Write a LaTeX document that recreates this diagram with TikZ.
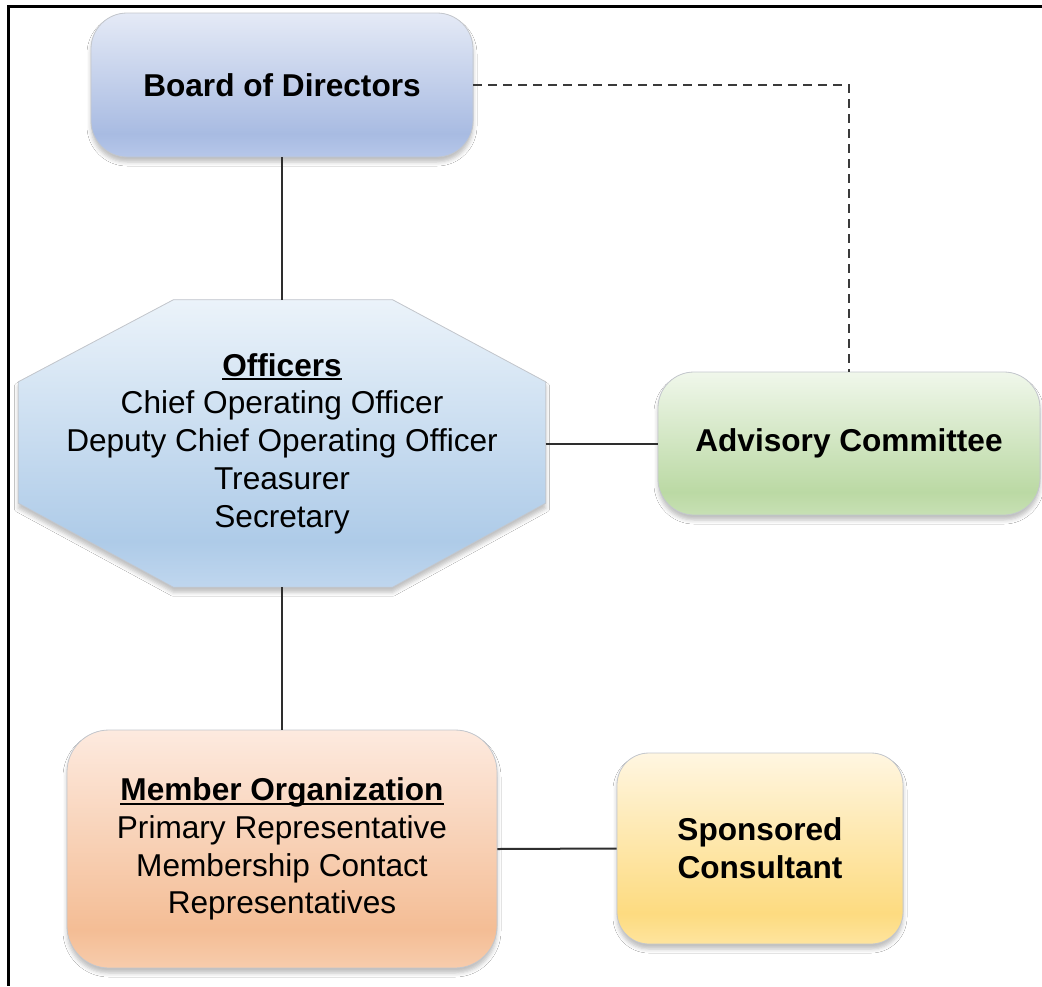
\documentclass[tikz,border=0pt]{standalone}
\usepackage{fontspec}
\setmainfont{Liberation Sans}
\usetikzlibrary{calc,shadows.blur}

% underlined heading: a rule under the measured text width
\newsavebox\headsave
\newcommand\headline[1]{\sbox\headsave{#1}\rlap{\rule[-4.2pt]{\wd\headsave}{2.2pt}}\usebox\headsave}

% palette
\definecolor{boxline}{HTML}{C4C7CC}
\definecolor{linkcol}{HTML}{2E2E2E}
\definecolor{dashcol}{HTML}{3A3A3A}
\definecolor{shadowblue}{HTML}{9FB6D9}
\definecolor{bdT}{HTML}{E5EAF6}\definecolor{bdD}{HTML}{A8BBE2}\definecolor{bdB}{HTML}{B6C7E9}
\definecolor{ofT}{HTML}{EBF3FA}\definecolor{ofD}{HTML}{AECBE8}\definecolor{ofB}{HTML}{BFD6EE}
\definecolor{adT}{HTML}{F0F7EB}\definecolor{adD}{HTML}{BBD9A4}\definecolor{adB}{HTML}{C7E0B4}
\definecolor{meT}{HTML}{FDEADF}\definecolor{meD}{HTML}{F4BD95}\definecolor{meB}{HTML}{F7CCAC}
\definecolor{spT}{HTML}{FFF6E1}\definecolor{spD}{HTML}{FDDB80}\definecolor{spB}{HTML}{FEE49E}

% three-stop vertical gradients (path maps onto 25bp..75bp)
\pgfdeclareverticalshading{boardshade}{100bp}{color(0bp)=(bdB); color(25bp)=(bdB); color(33bp)=(bdD); color(75bp)=(bdT); color(100bp)=(bdT)}
\pgfdeclareverticalshading{offshade}{100bp}{color(0bp)=(ofB); color(25bp)=(ofB); color(33bp)=(ofD); color(75bp)=(ofT); color(100bp)=(ofT)}
\pgfdeclareverticalshading{advshade}{100bp}{color(0bp)=(adB); color(25bp)=(adB); color(33bp)=(adD); color(75bp)=(adT); color(100bp)=(adT)}
\pgfdeclareverticalshading{memshade}{100bp}{color(0bp)=(meB); color(25bp)=(meB); color(33bp)=(meD); color(75bp)=(meT); color(100bp)=(meT)}
\pgfdeclareverticalshading{sposhade}{100bp}{color(0bp)=(spB); color(25bp)=(spB); color(33bp)=(spD); color(75bp)=(spT); color(100bp)=(spT)}

\newcommand\boldface{\fontsize{31.6}{37.7}\selectfont\bfseries}
\newcommand\plainface{\fontsize{31.6}{37.7}\selectfont}

\tikzset{
  softshadow/.style={blur shadow={shadow xshift=0pt, shadow yshift=-5pt,
      shadow blur radius=4pt, shadow opacity=25, fill=shadowblue}},
  unitbox/.style={draw=boxline, line width=0.8pt, rounded corners=#1,
      inner sep=0pt, align=center, shade, softshadow},
  unitbox/.default=35pt,
  link/.style={draw=linkcol, line width=2pt},
  dashlink/.style={draw=dashcol, line width=2.6pt, dash pattern=on 9pt off 6pt},
  frame/.style={draw=black, line width=2.7pt}
}

\begin{document}
\begin{tikzpicture}[x=1pt, y=-1pt]
  \useasboundingbox (0,0) rectangle (1042,986);
  \fill[white] (0,0) rectangle (1042,986);

  % page frame (top and left edges)
  \coordinate (frTR) at (1042,6.2);
  \coordinate (frTL) at (8.7,6.2);
  \coordinate (frBL) at (8.7,986);
  \draw[frame] (frTR) -- (frTL) -- (frBL);

  % Board
  \node[unitbox=36pt, shading=boardshade, minimum width=382pt, minimum height=144pt,
        font=\boldface] (board) at (282,85) {Board of Directors};

  % Officers: octagon drawn around an invisible frame node
  \node[minimum width=527pt, minimum height=287pt, inner sep=0pt] (off) at (282,443.5) {};
  \shade[shading=offshade, draw=boxline, line width=0.8pt, softshadow]
    ($(off.north west)+(155,0)$) -- ($(off.north east)+(-153,0)$)
    -- ($(off.north east)+(0,82)$) -- ($(off.south east)+(0,-84)$)
    -- ($(off.south east)+(-153,0)$) -- ($(off.south west)+(155,0)$)
    -- ($(off.south west)+(0,-84)$) -- ($(off.north west)+(0,82)$) -- cycle;
  \node[align=center, font=\plainface, inner sep=0pt] (offtext) at (off.center)
    {{\boldface\headline{Officers}}\\Chief Operating Officer\\Deputy Chief Operating Officer\\Treasurer\\Secretary};

  % Advisory Committee
  \node[unitbox=36pt, shading=advshade, minimum width=382pt, minimum height=143pt,
        font=\boldface] (adv) at (849,443.5) {Advisory Committee};

  % Member Organization
  \node[unitbox=42pt, shading=memshade, minimum width=430pt, minimum height=238pt,
        font=\plainface] (mem) at (282,849)
    {{\boldface\headline{Member Organization}}\\Primary Representative\\Membership Contact\\Representatives};

  % Sponsored Consultant
  \node[unitbox=32pt, shading=sposhade, minimum width=286pt, minimum height=191pt,
        font=\boldface] (spo) at (760,848.5) {Sponsored\\Consultant};

  % connectors
  \draw[link] (board.south) -- (off.north);
  \draw[link] (off.south) -- (mem.north);
  \draw[link] (off.east) -- (adv.west);
  \draw[link] (mem.east) -- (spo.west);
  \draw[dashlink] (board.east) -| (adv.north);
\end{tikzpicture}
\end{document}
